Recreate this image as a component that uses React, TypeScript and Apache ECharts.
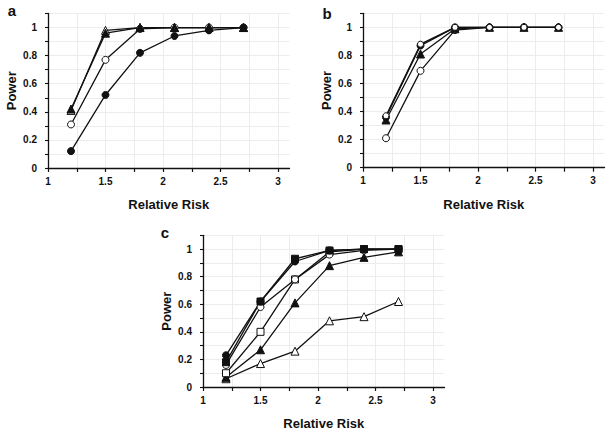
import React, { useEffect, useRef } from "react";
import * as echarts from "echarts";

const relativeRisk = [1.2, 1.5, 1.8, 2.1, 2.4, 2.7];
const xLabelValues = [1, 1.5, 2, 2.5, 3];
const xTickValues = [1, 1.25, 1.5, 1.75, 2, 2.25, 2.5, 2.75, 3];
const yLabelValues = [0, 0.2, 0.4, 0.6, 0.8, 1];

// Panel a
const aFilledTriangle = [0.42, 0.96, 1.0, 1.0, 1.0, 1.0];
const aOpenTriangle = [0.41, 0.98, 1.0, 1.0, 1.0, 1.0];
const aOpenCircle = [0.31, 0.77, 0.99, 1.0, 1.0, 1.0];
const aFilledCircle = [0.12, 0.52, 0.82, 0.94, 0.98, 1.0];

// Panel b
const bFilledCircle = [0.36, 0.87, 1.0, 1.0, 1.0, 1.0];
const bOpenCircleHigh = [0.37, 0.88, 1.0, 1.0, 1.0, 1.0];
const bFilledTriangle = [0.34, 0.81, 0.99, 1.0, 1.0, 1.0];
const bOpenCircleLow = [0.21, 0.69, 0.98, 1.0, 1.0, 1.0];

// Panel c
const cFilledCircle = [0.23, 0.62, 0.91, 0.99, 1.0, 1.0];
const cFilledSquare = [0.18, 0.62, 0.93, 0.99, 1.0, 1.0];
const cOpenCircle = [0.16, 0.58, 0.78, 0.96, 0.99, 1.0];
const cOpenSquare = [0.1, 0.4, 0.78, 0.98, 1.0, 1.0];
const cFilledTriangle = [0.07, 0.27, 0.61, 0.88, 0.94, 0.98];
const cOpenTriangle = [0.06, 0.17, 0.26, 0.48, 0.51, 0.62];

const FONT = "Liberation Sans, Arial, sans-serif";
const INK = "#111";

export default function App() {
  const ref = useRef<HTMLDivElement>(null);
  useEffect(() => {
    if (!ref.current) return;
    const chart = echarts.init(ref.current, undefined, { renderer: "svg" });

    const unit = 115;
    const grids = [
      { left: 48, top: 13.5, width: 2.1 * unit, height: 154.5 },
      { left: 363, top: 13.3, width: 2.1 * unit, height: 154.4 },
      { left: 203, top: 235.3, width: 2.1 * unit, height: 154 },
    ];

    const xAxes = grids.map((_, i) => ({
      type: "value",
      gridIndex: i,
      min: 1,
      max: 3.1,
      interval: 0.5,
      name: "Relative Risk",
      nameLocation: "middle",
      nameGap: 30,
      nameTextStyle: { fontFamily: FONT, fontWeight: "bold", fontSize: 13, color: INK },
      axisLine: { show: true, lineStyle: { color: INK, width: 1.3 } },
      axisTick: { show: true, length: 4, customValues: xTickValues, lineStyle: { color: INK, width: 1.2 } },
      axisLabel: {
        customValues: xLabelValues,
        fontFamily: FONT,
        fontWeight: "bold",
        fontSize: 10,
        color: INK,
        margin: 8,
        formatter: (v: number) => String(Math.round(v * 10) / 10),
      },
      splitLine: { show: true, lineStyle: { color: "#ececec", width: 1 } },
    }));

    const yAxes = grids.map((_, i) => ({
      type: "value",
      gridIndex: i,
      min: 0,
      max: 1.1,
      interval: 0.1,
      name: "Power",
      nameLocation: "middle",
      nameGap: 30,
      nameTextStyle: { fontFamily: FONT, fontWeight: "bold", fontSize: 13, color: INK },
      axisLine: { show: true, lineStyle: { color: INK, width: 1.3 } },
      axisTick: { show: true, length: 3, lineStyle: { color: INK, width: 1.1 } },
      axisLabel: {
        customValues: yLabelValues,
        fontFamily: FONT,
        fontWeight: "bold",
        fontSize: 10,
        color: INK,
        margin: 11,
        formatter: (v: number) => String(Math.round(v * 10) / 10),
      },
      splitLine: { show: true, lineStyle: { color: "#ececec", width: 1 } },
    }));

    const mk = (idx: number, vals: number[], symbol: string, filled: boolean, size = 7) => ({
      type: "line",
      xAxisIndex: idx,
      yAxisIndex: idx,
      data: relativeRisk.map((x, i) => [x, vals[i]]),
      symbol,
      symbolSize: size,
      showAllSymbol: true,
      lineStyle: { color: INK, width: 1.3 },
      itemStyle: filled
        ? { color: INK, borderColor: INK, borderWidth: 1 }
        : { color: "#fff", borderColor: INK, borderWidth: 1 },
      emphasis: { disabled: true },
    });

    const series = [
      mk(0, aOpenCircle, "circle", false),
      mk(0, aOpenTriangle, "triangle", false, 8),
      mk(0, aFilledTriangle, "triangle", true, 8),
      mk(0, aFilledCircle, "circle", true),

      mk(1, bOpenCircleLow, "circle", false),
      mk(1, bFilledTriangle, "triangle", true, 8),
      mk(1, bFilledCircle, "circle", true),
      mk(1, bOpenCircleHigh, "circle", false, 6),

      mk(2, cOpenTriangle, "triangle", false, 8),
      mk(2, cFilledTriangle, "triangle", true, 8),
      mk(2, cOpenSquare, "rect", false),
      mk(2, cOpenCircle, "circle", false),
      mk(2, cFilledCircle, "circle", true),
      mk(2, cFilledSquare, "rect", true),
    ];

    const letter = (text: string, x: number, y: number) => ({
      type: "text",
      x,
      y,
      style: {
        text,
        fontFamily: FONT,
        fontWeight: "bold",
        fontSize: 15,
        fill: INK,
        align: "center",
        verticalAlign: "middle",
      },
    });

    chart.setOption({
      animation: false,
      backgroundColor: "#fff",
      grid: grids,
      xAxis: xAxes,
      yAxis: yAxes,
      series,
      graphic: [letter("a", 12, 10), letter("b", 327, 13), letter("c", 165, 232)],
    });

    return () => chart.dispose();
  }, []);

  return (
    <div
      ref={ref}
      style={{ position: "fixed", left: 0, top: 0, width: 612, height: 431, background: "#fff" }}
    />
  );
}
